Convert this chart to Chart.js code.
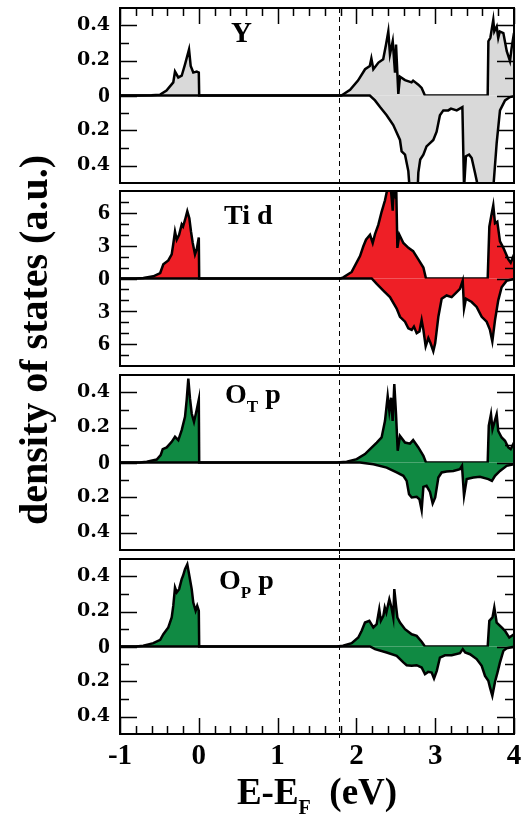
<!DOCTYPE html>
<html>
<head>
<meta charset="utf-8">
<script src="https://cdn.jsdelivr.net/npm/chart.js@4/dist/chart.umd.min.js"></script>
<style>
  html, body { margin: 0; padding: 0; background: #fff; }
  #wrap { position: relative; width: 523px; height: 817px; overflow: hidden; }
  .box { position: absolute; left: 0; width: 523px; }
  .lbl { position: absolute; font-family: "Liberation Serif", "Times New Roman", serif; font-weight: bold; color: #000; white-space: pre; line-height: 1; }
  .lbl sub { font-size: 17px; vertical-align: -9px; line-height: 0; }
</style>
</head>
<body>
<div id="wrap">
  <div class="box" id="b1"><canvas id="c1"></canvas></div>
  <div class="box" id="b2"><canvas id="c2"></canvas></div>
  <div class="box" id="b3"><canvas id="c3"></canvas></div>
  <div class="box" id="b4"><canvas id="c4"></canvas></div>
  <div class="lbl" style="left:231px; top:18px; font-size:29px;">Y</div>
  <div class="lbl" style="left:224px; top:201px; font-size:28px;">Ti d</div>
  <div class="lbl" style="left:225px; top:380px; font-size:28px;">O<sub>T</sub> p</div>
  <div class="lbl" style="left:219px; top:566px; font-size:28px;">O<sub>P</sub> p</div>
  <div class="lbl" id="xt" style="left:317px; top:773px; font-size:37px; transform:translateX(-50%);">E-E<sub style="font-size:20px;vertical-align:-10px;">F</sub>  (eV)</div>
  <div class="lbl" style="left:34px; top:340px; font-size:40px; transform:translate(-50%,-50%) rotate(-90deg);">density of states (a.u.)</div>
</div>
<script>
// ---------------- data (energies in eV, DOS in a.u.) ----------------
const X_MIN = -1, X_MAX = 4;
const EF_LINE = 1.78;           // dashed vertical marker
const X_TICKS = [-1, 0, 1, 2, 3, 4];
const X_MINOR = [-0.8,-0.6,-0.4,-0.2,0.2,0.4,0.6,0.8,1.2,1.4,1.6,1.8,2.2,2.4,2.6,2.8,3.2,3.4,3.6,3.8];

const SMALL_MAJOR = [-0.4, -0.2, 0, 0.2, 0.4];
const SMALL_MINOR = [-0.3, -0.1, 0.1, 0.3];
const TI_MAJOR = [-6, -3, 0, 3, 6];
const TI_MINOR = [-7, -5, -4, -2, -1, 1, 2, 4, 5, 7];

// Y
const yUpE = [-1, -0.75, -0.6, -0.49, -0.41, -0.324, -0.302, -0.26, -0.217, -0.175, -0.124, -0.103, -0.07, -0.027, 0.0, 0.005,
  1.81, 1.92, 2.02, 2.11, 2.17, 2.19, 2.215, 2.28, 2.34, 2.376, 2.405, 2.426, 2.461, 2.49, 2.503, 2.532, 2.553, 2.617, 2.70, 2.72, 2.786, 2.828, 2.87,
  3.666, 3.675, 3.70, 3.737, 3.75, 3.78, 3.80, 3.82, 3.865, 3.908, 3.949, 3.97, 4.0];
const yUpV = [0, 0, 0.002, 0.005, 0.028, 0.075, 0.137, 0.103, 0.113, 0.178, 0.263, 0.169, 0.131, 0.137, 0.131, 0,
  0, 0.032, 0.085, 0.150, 0.169, 0.212, 0.150, 0.188, 0.207, 0.291, 0.366, 0.235, 0.310, 0.131, 0.291, 0.009, 0.107, 0.088, 0.075, 0.085, 0.062, 0.043, 0,
  0, 0.31, 0.33, 0.432, 0.366, 0.394, 0.329, 0.366, 0.357, 0.253, 0.197, 0.272, 0.357];
const yDnE = [-1, 2.17, 2.236, 2.30, 2.384, 2.468, 2.553, 2.574, 2.617, 2.659, 2.68, 2.73, 2.775, 2.786, 2.81, 2.85, 2.89, 2.934, 2.976, 3.018, 3.06,
  3.103, 3.166, 3.2, 3.273, 3.345, 3.366, 3.39, 3.43, 3.463, 3.505, 3.547, 3.65, 3.737, 3.78, 3.822, 3.886, 3.949, 4.0];
const yDnV = [0, 0, -0.028, -0.066, -0.113, -0.169, -0.254, -0.319, -0.338, -0.432, -0.56, -0.6, -0.56, -0.441, -0.366, -0.338, -0.291, -0.272, -0.254, -0.207, -0.113,
  -0.085, -0.085, -0.075, -0.085, -0.066, -0.53, -0.347, -0.338, -0.357, -0.441, -0.53, -0.6, -0.53, -0.272, -0.085, -0.028, -0.009, -0.004];

// Ti d
const tiUpE = [-1, -0.8, -0.704, -0.577, -0.49, -0.45, -0.387, -0.344, -0.324, -0.302, -0.28, -0.25, -0.217, -0.2, -0.175, -0.146, -0.12, -0.099, -0.077, -0.048, -0.027, 0.0, 0.005,
  1.80, 1.834, 1.94, 2.046, 2.088, 2.122, 2.173, 2.207, 2.236, 2.278, 2.32, 2.363, 2.405, 2.43, 2.461, 2.475, 2.49, 2.505, 2.52, 2.545, 2.596, 2.66, 2.72, 2.786, 2.85, 2.883,
  3.666, 3.687, 3.717, 3.737, 3.759, 3.788, 3.822, 3.865, 3.928, 3.958, 4.0];
const tiUpV = [0, 0, 0.05, 0.2, 0.5, 1.3, 1.65, 2.2, 3.15, 4.3, 3.55, 4.0, 4.95, 4.75, 5.35, 6.15, 5.5, 4.3, 3.25, 2.2, 2.65, 3.75, 0,
  0, 0.1, 0.6, 2.05, 2.95, 3.55, 4.0, 3.25, 4.05, 4.9, 6.1, 7.15, 8.6, 8.8, 6.2, 8.6, 7.9, 8.5, 2.8, 4.0, 3.25, 2.8, 2.5, 1.75, 1.0, 0,
  0, 4.75, 5.95, 6.7, 5.05, 5.2, 3.4, 2.8, 1.75, 1.45, 2.2];
const tiDnE = [-1, 2.194, 2.258, 2.342, 2.426, 2.511, 2.553, 2.617, 2.659, 2.702, 2.73, 2.765, 2.8, 2.828, 2.85, 2.879, 2.913, 2.94, 2.976, 3.0, 3.04,
  3.082, 3.145, 3.209, 3.273, 3.314, 3.349, 3.366, 3.39, 3.463, 3.526, 3.59, 3.653, 3.695, 3.725, 3.759, 3.8, 3.843, 3.907, 4.0];
const tiDnV = [0, 0, -0.5, -1.1, -1.7, -2.75, -3.5, -3.95, -4.55, -4.7, -4.4, -5.0, -4.85, -3.8, -4.7, -6.2, -5.45, -5.9, -6.65, -5.9, -3.5,
  -1.85, -1.55, -1.7, -1.25, -0.95, -0.2, -2.75, -1.85, -2.15, -2.6, -3.5, -3.95, -4.7, -5.75, -3.8, -2.0, -0.8, -0.2, -0.05];

// O_T p
const otUpE = [-1, -0.75, -0.66, -0.534, -0.484, -0.458, -0.407, -0.344, -0.302, -0.26, -0.217, -0.175, -0.154, -0.133, -0.112, -0.09, -0.061, -0.027, 0.0, 0.005,
  1.75, 1.877, 2.004, 2.109, 2.173, 2.258, 2.32, 2.363, 2.397, 2.418, 2.44, 2.46, 2.481, 2.503, 2.524, 2.553, 2.617, 2.68, 2.72, 2.786, 2.85, 2.883,
  3.666, 3.68, 3.708, 3.727, 3.75, 3.78, 3.80, 3.843, 3.886, 3.928, 3.958, 4.0];
const otUpV = [0, 0, 0.004, 0.017, 0.042, 0.076, 0.086, 0.118, 0.147, 0.128, 0.185, 0.261, 0.356, 0.48, 0.366, 0.28, 0.232, 0.3, 0.36, 0,
  0, 0.004, 0.019, 0.048, 0.076, 0.114, 0.143, 0.238, 0.38, 0.295, 0.37, 0.238, 0.448, 0.276, 0.067, 0.152, 0.114, 0.108, 0.128, 0.086, 0.038, 0,
  0, 0.21, 0.276, 0.19, 0.228, 0.276, 0.18, 0.143, 0.124, 0.086, 0.076, 0.114];
const otDnE = [-1, 2.046, 2.215, 2.384, 2.511, 2.596, 2.638, 2.668, 2.702, 2.765, 2.8, 2.828, 2.85, 2.89, 2.934, 2.968, 3.0, 3.04, 3.082, 3.145,
  3.23, 3.314, 3.34, 3.366, 3.4, 3.484, 3.568, 3.674, 3.72, 3.759, 3.822, 3.907, 4.0];
const otDnV = [0, 0, -0.01, -0.029, -0.057, -0.076, -0.105, -0.181, -0.2, -0.196, -0.21, -0.272, -0.139, -0.133, -0.168, -0.234, -0.2, -0.086, -0.057, -0.051,
  -0.048, -0.038, -0.019, -0.19, -0.095, -0.086, -0.082, -0.095, -0.105, -0.076, -0.048, -0.019, -0.01];

// O_P p
const opUpE = [-1, -0.8, -0.704, -0.577, -0.49, -0.45, -0.387, -0.344, -0.324, -0.302, -0.28, -0.25, -0.217, -0.2, -0.175, -0.146, -0.12, -0.09, -0.07, -0.04, -0.02, 0.0, 0.005,
  1.75, 1.83, 1.94, 2.024, 2.067, 2.109, 2.164, 2.215, 2.257, 2.29, 2.31, 2.342, 2.36, 2.38, 2.418, 2.445, 2.468, 2.481, 2.503, 2.52, 2.553, 2.617, 2.702, 2.765, 2.828, 2.87,
  3.666, 3.687, 3.727, 3.75, 3.78, 3.843, 3.886, 3.94, 4.0];
const opUpV = [0, 0, 0.004, 0.019, 0.038, 0.07, 0.109, 0.166, 0.232, 0.337, 0.309, 0.328, 0.385, 0.404, 0.442, 0.47, 0.404, 0.328, 0.251, 0.204, 0.232, 0.204, 0,
  0, 0.004, 0.019, 0.051, 0.09, 0.137, 0.147, 0.109, 0.128, 0.213, 0.147, 0.175, 0.223, 0.194, 0.27, 0.223, 0.166, 0.328, 0.232, 0.166, 0.137, 0.099, 0.07, 0.061, 0.027, 0,
  0, 0.147, 0.166, 0.223, 0.137, 0.109, 0.09, 0.051, 0.07];
const opDnE = [-1, 2.173, 2.236, 2.384, 2.511, 2.596, 2.638, 2.702, 2.765, 2.828, 2.87, 2.91, 2.955, 2.985, 3.02, 3.06, 3.124, 3.209, 3.314, 3.35,
  3.38, 3.442, 3.526, 3.59, 3.632, 3.674, 3.695, 3.725, 3.76, 3.79, 3.822, 3.865, 3.907, 4.0];
const opDnV = [0, 0, -0.015, -0.034, -0.053, -0.091, -0.107, -0.11, -0.107, -0.12, -0.158, -0.145, -0.149, -0.183, -0.139, -0.063, -0.05, -0.05, -0.038, -0.015,
  -0.034, -0.044, -0.072, -0.11, -0.168, -0.196, -0.234, -0.282, -0.2, -0.149, -0.091, -0.025, -0.01, -0.002];

// ---------------- layout / style ----------------
const PANEL_TOPS = [8, 191, 375, 559];
const PANEL_H = 175;
const PAD = 4;
const AXIS_LEFT = 120;
const RIGHT_PAD = 9;
const BOTTOM_AXIS_H = 83;

const GREY = '#d9d9d9', RED = '#ee1f26', GREEN = '#108a43';

const pts = (xs, ys) => xs.map((x, i) => ({ x, y: ys[i] }));

const framePlugin = {
  id: 'frame',
  afterDatasetsDraw(chart) {
    const cfg = chart.options.plugins.frame;
    const { ctx, chartArea: a, scales: { x, y } } = chart;
    ctx.save();
    ctx.strokeStyle = '#000';
    ctx.lineWidth = 1.5;
    ctx.beginPath();
    const yt = (vals, len) => vals.forEach(v => {
      const py = Math.round(y.getPixelForValue(v)) + 0.5;
      ctx.moveTo(a.left, py); ctx.lineTo(a.left + len, py);
      ctx.moveTo(a.right, py); ctx.lineTo(a.right - len, py);
    });
    yt(cfg.yMajor, 17); yt(cfg.yMinor, 9);
    const xt = (vals, len) => vals.forEach(v => {
      const px = Math.round(x.getPixelForValue(v)) + 0.5;
      if (cfg.top) { ctx.moveTo(px, a.top); ctx.lineTo(px, a.top + len); }
      if (cfg.bottom) { ctx.moveTo(px, a.bottom); ctx.lineTo(px, a.bottom - len); }
    });
    xt(X_TICKS, 16); xt(X_MINOR, 8);
    ctx.stroke();
    // dashed marker
    const dx = Math.round(x.getPixelForValue(EF_LINE)) + 0.5;
    ctx.lineWidth = 1;
    ctx.setLineDash([5, 4]);
    ctx.beginPath();
    ctx.moveTo(dx, cfg.top ? a.top : a.top - PAD);
    ctx.lineTo(dx, a.bottom + PAD);
    ctx.stroke();
    ctx.setLineDash([]);
    // frame
    ctx.lineWidth = 2;
    ctx.strokeRect(a.left, a.top, a.right - a.left, a.bottom - a.top);
    ctx.restore();
  }
};

function makePanel(idx, up, dn, color, yr, major, minor, isTi) {
  const last = idx === 3;
  const box = document.getElementById('b' + (idx + 1));
  const cv = document.getElementById('c' + (idx + 1));
  const top = PANEL_TOPS[idx] - PAD;
  const h = last ? 817 - top : PANEL_H + 2 * PAD;
  box.style.top = top + 'px';
  box.style.height = h + 'px';
  const ds = (data) => ({
    data, borderColor: '#000', borderWidth: 2.5, backgroundColor: color,
    fill: 'origin', pointRadius: 0, tension: 0
  });
  const bigFont = { family: 'Liberation Serif', weight: 'bold', size: 24 };
  const smallFont = { family: 'DejaVu Serif', weight: 'bold', size: 19 };
  new Chart(cv, {
    type: 'line',
    data: { datasets: [ds(dn), ds(up)] },
    options: {
      responsive: true, maintainAspectRatio: false, animation: false, events: [],
      devicePixelRatio: 1,
      layout: { padding: { left: 0, right: RIGHT_PAD, top: PAD, bottom: last ? 0 : PAD } },
      plugins: {
        legend: { display: false }, tooltip: { enabled: false },
        frame: { yMajor: major, yMinor: minor, top: idx === 0, bottom: last }
      },
      scales: {
        x: {
          type: 'linear', min: X_MIN, max: X_MAX, display: last,
          grid: { display: false, drawTicks: false }, border: { display: false },
          afterBuildTicks: s => { s.ticks = X_TICKS.map(v => ({ value: v })); },
          afterFit: s => {
            s.height = last ? BOTTOM_AXIS_H : 0;
            s.paddingLeft = 0; s.paddingRight = 0;
          },
          ticks: { color: '#000', padding: 5, maxRotation: 0, autoSkip: false,
            font: { family: 'Liberation Serif', weight: 'bold', size: 29 },
            callback: v => String(v) }
        },
        y: {
          type: 'linear', min: -yr, max: yr,
          grid: { display: false, drawTicks: false }, border: { display: false },
          afterBuildTicks: s => { s.ticks = major.map(v => ({ value: v })); },
          afterFit: s => { s.width = AXIS_LEFT; s.paddingTop = 0; s.paddingBottom = 0; },
          ticks: { color: '#000', padding: 10, autoSkip: false,
            font: c => (isTi || (c.tick && c.tick.value === 0)) ? bigFont : smallFont,
            callback: v => String(Math.abs(v)) }
        }
      }
    },
    plugins: [framePlugin]
  });
}

makePanel(0, pts(yUpE, yUpV), pts(yDnE, yDnV), GREY, 0.5, SMALL_MAJOR, SMALL_MINOR, false);
makePanel(1, pts(tiUpE, tiUpV), pts(tiDnE, tiDnV), RED, 8, TI_MAJOR, TI_MINOR, true);
makePanel(2, pts(otUpE, otUpV), pts(otDnE, otDnV), GREEN, 0.5, SMALL_MAJOR, SMALL_MINOR, false);
makePanel(3, pts(opUpE, opUpV), pts(opDnE, opDnV), GREEN, 0.5, SMALL_MAJOR, SMALL_MINOR, false);
</script>
</body>
</html>
